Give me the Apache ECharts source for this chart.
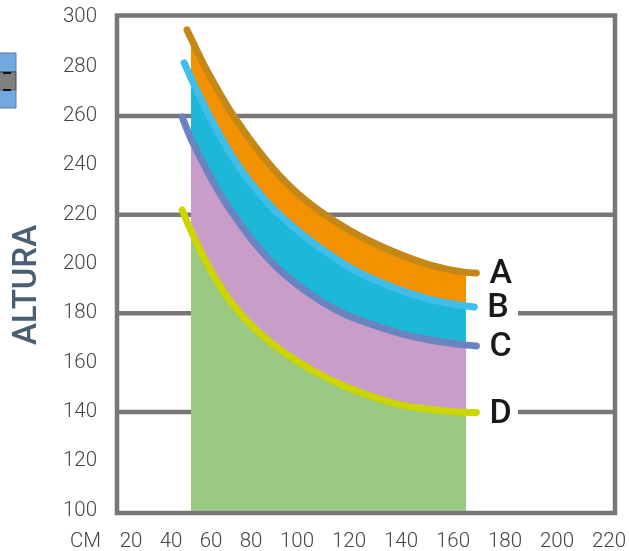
<!DOCTYPE html>
<html>
<head>
<meta charset="utf-8">
<style>html,body{margin:0;padding:0;background:#fff}#c{width:629px;height:551px}</style>
<script src="https://cdn.jsdelivr.net/npm/echarts@6/dist/echarts.min.js"></script>
</head>
<body>
<div id="c"></div>
<script>
var xTicks = [20,40,60,80,100,120,140,160,180,200,220];
var yTicks = [100,120,140,160,180,200,220,240,260,280,300];
var cmSamples = [50,55,60,65,70,80,90,100,110,120,130,140,150,160,165];
var seriesNames = ['A','B','C','D'];
var startCm = [48,46.6,45.6,45.6];
var endCm = [169,168.2,169,169];
var startA = 294.9, endA = 196.4;
var startB = 281.5, endB = 182.6;
var startC = 259.6, endC = 166.8;
var startD = 221.9, endD = 139.8;
var valuesA = [291.5,283.1,275.4,268.3,261.6,249.9,238.3,228.8,220.5,213.8,208.3,203.7,200,197.4,196.6];
var valuesB = [275.4,266.9,258.8,251.3,244.4,232.8,222.1,213.8,205.7,198.8,193.5,189.3,186,183.8,183];
var valuesC = [250.7,242.6,234.9,227.8,221.5,210.3,199.8,191.7,184.4,178.9,175.1,171.8,169.4,167.8,167.2];
var valuesD = [213.4,204.9,197.2,190.5,184.6,175.3,167.2,160.7,154.6,149.7,145.9,142.9,141.2,140.2,139.9];
var fullGrid = [260,220];
var brokenGrid = [180,140];
var gridBreakFrom = 160, gridBreakTo = 185;
var lineColors = ['#c58715','#3fbdec','#6b83bf','#ccd500'];
var fillColors = ['#f39200','#1db8d8','#c89dca','#99c982'];

// The printed CM scale is not uniform: it stretches above 80.
function u(cm){ return cm<=80 ? cm : cm<=100 ? 80+(cm-80)*1.15 : 103+(cm-100)*1.3; }
function cmOf(v){ return v<=80 ? v : v<=103 ? 80+(v-80)/1.15 : 100+(v-103)/1.3; }
var xMin = 13.0, xMax = 262.0;

var FONT = 'Roboto';
var starts=[startA,startB,startC,startD], ends=[endA,endB,endC,endD], vals=[valuesA,valuesB,valuesC,valuesD];
var series = [];

var gridData = [];
fullGrid.forEach(function(v){ gridData.push([xMin,v],[xMax,v],null); });
brokenGrid.forEach(function(v){ gridData.push([xMin,v],[u(gridBreakFrom),v],null,[u(gridBreakTo),v],[xMax,v],null); });
series.push({type:'line',name:'grid',data:gridData,symbol:'none',silent:true,connectNulls:false,z:1,
  lineStyle:{color:'#777777',width:4.5,cap:'butt'}});

seriesNames.forEach(function(n,i){
  series.push({type:'line',name:n+' fill',z:2+i,symbol:'none',smooth:0.3,clip:true,
    data:cmSamples.map(function(c,k){return [u(c),vals[i][k]];}),
    lineStyle:{width:0},areaStyle:{color:fillColors[i],opacity:1,origin:'start'}});
});
seriesNames.forEach(function(n,i){
  var d=[[u(startCm[i]),starts[i]]].concat(cmSamples.map(function(c,k){return [u(c),vals[i][k]];}),[[u(endCm[i]),ends[i]]]);
  series.push({type:'line',name:n,z:10+(3-i),symbol:'none',smooth:0.3,clip:false,data:d,
    lineStyle:{color:lineColors[i],width:7,cap:'round'},
    endLabel:{show:true,formatter:n,distance:12,offset:[1,2],color:'#1a1a1a',fontFamily:FONT,fontSize:34,fontWeight:500}});
});

var chart = echarts.init(document.getElementById('c'),null,{renderer:'canvas'});
chart.setOption({
  animation:false,
  backgroundColor:'#ffffff',
  grid:[
    {left:117,right:14,top:17.3,bottom:40.3,show:false,outerBoundsMode:'none'},
    {left:117,right:14,top:15.5,bottom:38,show:true,borderColor:'#777777',borderWidth:4.5,backgroundColor:'transparent',outerBoundsMode:'none'}
  ],
  xAxis:[
    {type:'value',gridIndex:0,min:xMin,max:xMax,splitLine:{show:false},axisLine:{show:false},axisTick:{show:false},
     axisLabel:{customValues:xTicks.map(u),margin:21,color:'#444444',fontFamily:FONT,fontWeight:300,fontSize:20.5,
       formatter:function(v){return String(Math.round(cmOf(v)));}}},
    {type:'value',gridIndex:1,min:0,max:1,show:false}
  ],
  yAxis:[
    {type:'value',gridIndex:0,min:yTicks[0],max:yTicks[yTicks.length-1],interval:20,splitLine:{show:false},axisLine:{show:false},axisTick:{show:false},
     axisLabel:{margin:20,color:'#444444',fontFamily:FONT,fontWeight:300,fontSize:20.5}},
    {type:'value',gridIndex:1,min:0,max:1,show:false}
  ],
  graphic:[
    {type:'text',left:70,top:531,style:{text:'CM',fill:'#444444',font:'300 20.5px Roboto'}},
    {type:'text',x:28,y:285,rotation:Math.PI/2,style:{text:'ALTURA',fill:'#4a6072',font:'500 33px Roboto',align:'center',verticalAlign:'middle'}},
    {type:'rect',shape:{x:-2,y:53,width:18,height:19},style:{fill:'#72a8e0',stroke:'#5b7a99',lineWidth:1}},
    {type:'rect',shape:{x:-2,y:72,width:18,height:18},style:{fill:'#808080',stroke:'#444444',lineWidth:1}},
    {type:'rect',shape:{x:-2,y:90,width:18,height:18},style:{fill:'#72a8e0',stroke:'#5b7a99',lineWidth:1}},
    {type:'rect',shape:{x:3,y:72,width:8,height:2},style:{fill:'#111111'}},
    {type:'rect',shape:{x:3,y:89,width:8,height:2},style:{fill:'#111111'}}
  ],
  series:series
});
</script>
</body>
</html>
